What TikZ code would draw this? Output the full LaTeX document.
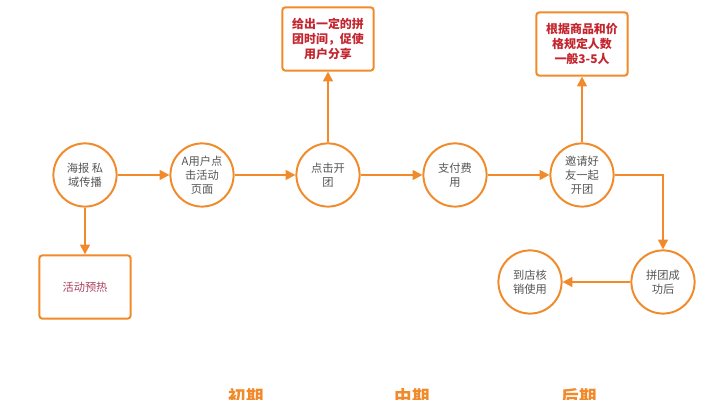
\documentclass[tikz,border=0pt]{standalone}
\usepackage{fontspec}
\setmainfont{Noto Sans CJK SC}
\usepackage{tikz}
\usetikzlibrary{arrows.meta}

\definecolor{lineorange}{HTML}{F08A2A}
\definecolor{boxred}{HTML}{C3262F}
\definecolor{textgray}{HTML}{555555}
\definecolor{warmred}{HTML}{A8435E}

\tikzset{
  stepcircle/.style={circle,draw=lineorange,line width=1.4pt,minimum size=1.58cm,inner sep=0pt,
    align=center,text=textgray,font=\fontsize{8}{10}\selectfont},
  notebox/.style={rectangle,rounded corners=2pt,draw=lineorange,line width=1.4pt,minimum width=2.28cm,
    minimum height=1.58cm,align=center,text=boxred,font=\bfseries\fontsize{8.5}{10.6}\selectfont},
  flow/.style={draw=lineorange,line width=1.4pt,-{Triangle[length=7pt,width=7pt]}},
  phase/.style={text=lineorange,font=\bfseries\fontsize{12.5}{14}\selectfont}
}

\begin{document}
\begin{tikzpicture}
\useasboundingbox (0,0) rectangle (17.775,10);
\node[stepcircle] (haibao) at (2.125,5.625) {海报 私\\域传播};
\node[stepcircle] (yemian) at (5.05,5.625) {A用户点\\击活动\\页面};
\node[stepcircle] (kaituan) at (8.2,5.625) {点击开\\团};
\node[stepcircle] (zhifu) at (11.375,5.625) {支付费\\用};
\node[stepcircle] (yaoqing) at (14.55,5.625) {邀请好\\友一起\\开团};
\node[stepcircle] (chenggong) at (16.575,2.95) {拼团成\\功后};
\node[stepcircle] (hexiao) at (13.25,2.95) {到店核\\销使用};
\node[notebox,text=warmred,font=\fontsize{8}{10}\selectfont] (yure) at (2.125,2.825) {活动预热};
\node[notebox] (shijian) at (8.2,9.025) {给出一定的拼\\团时间，促使\\用户分享};
\node[notebox] (renshu) at (14.55,8.9) {根据商品和价\\格规定人数\\一般3-5人};
\node[phase] (chuqi) at (6.15,0.075) {初期};
\node[phase] (zhongqi) at (10.3,0.075) {中期};
\node[phase] (houqi) at (14.475,0.075) {后期};
% arrows
\draw[flow] (haibao) -- (yemian);
\draw[flow] (yemian) -- (kaituan);
\draw[flow] (kaituan) -- (zhifu);
\draw[flow] (zhifu) -- (yaoqing);
\draw[flow] (haibao) -- (yure);
\draw[flow] (kaituan) -- (shijian);
\draw[flow] (yaoqing) -- (renshu);
\draw[flow] (yaoqing) -| (chenggong);
\draw[flow] (chenggong) -- (hexiao);
\end{tikzpicture}
\end{document}
